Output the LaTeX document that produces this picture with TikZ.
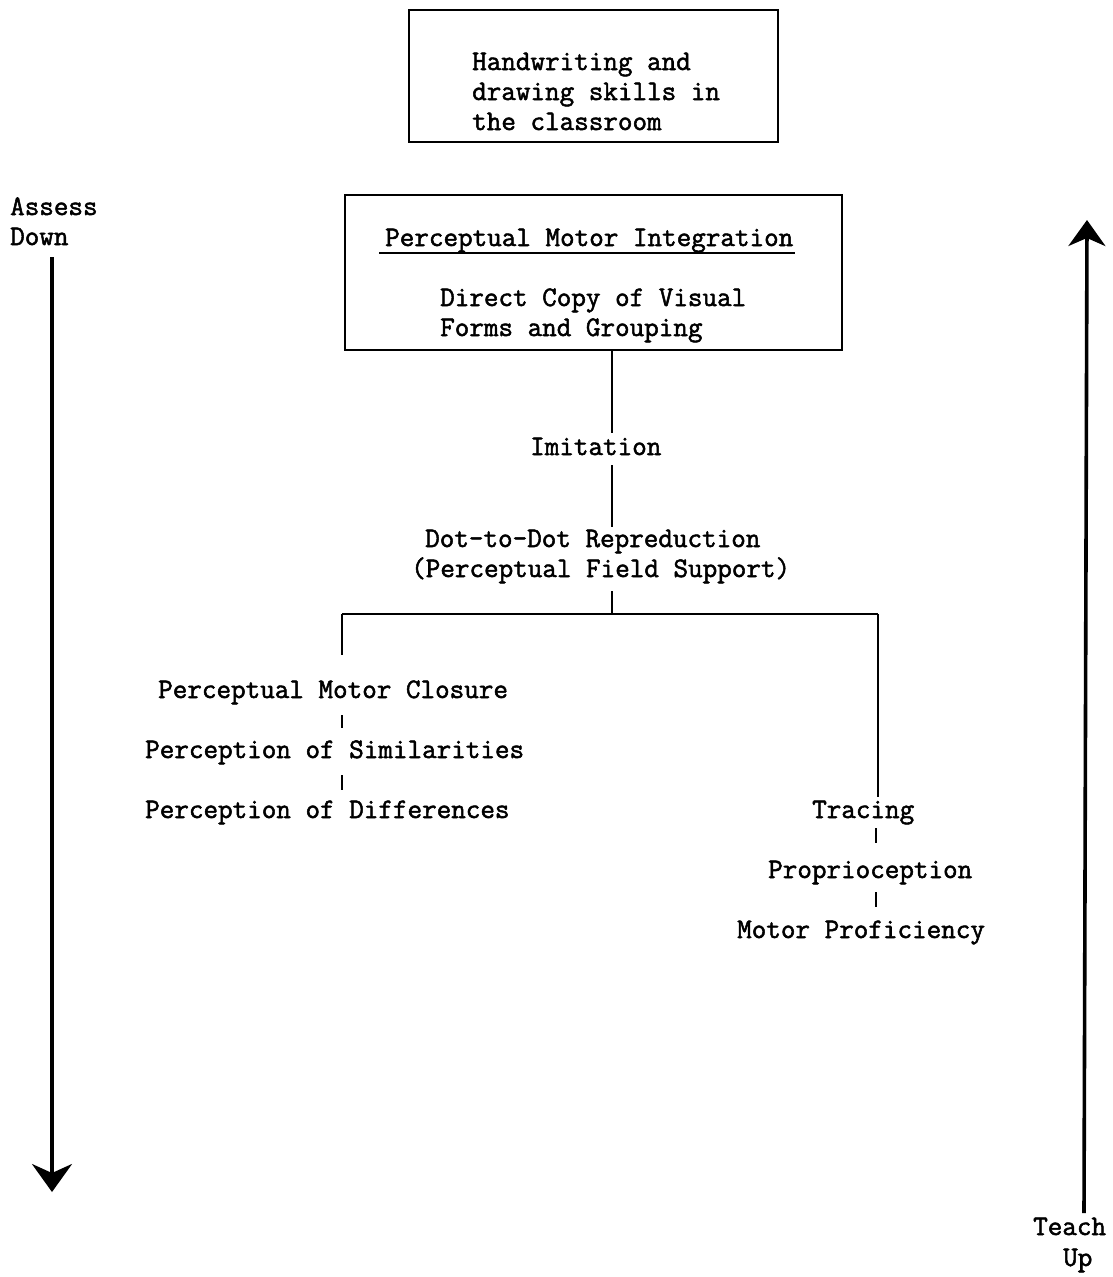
\documentclass[tikz,border=0pt]{standalone}
\usepackage{fontspec}
\usetikzlibrary{arrows.meta}
\newfontfamily\twmono[FakeBold=1.8]{Latin Modern Mono}
\newcommand\twfont{\fontsize{28.3}{30}\selectfont\twmono}
\begin{document}
\begin{tikzpicture}[x=1pt,y=-1pt,
  txt/.style={inner sep=0pt, anchor=base west, font=\twfont},
  boxline/.style={draw, line width=2.8pt, inner sep=0pt},
  conn/.style={line width=2.8pt},
  tick/.style={line width=2.4pt},
  downarrow/.style={line width=3.6pt, -{Stealth[length=28pt,width=40pt,inset=9pt]}},
  uparrow/.style={line width=3.6pt, -{Stealth[length=26pt,width=37pt,inset=8pt]}}]
\useasboundingbox (0,0) rectangle (1112,1277);

% boxes
\node[boxline, minimum width=369pt, minimum height=132pt] (box1) at (593.5,76) {};
\node[boxline, minimum width=497pt, minimum height=155pt] (box2) at (593.5,272.5) {};

% texts in top box
\node[txt] (hw1) at (472,70) {Handwriting and};
\node[txt] (hw2) at (472,100) {drawing skills in};
\node[txt] (hw3) at (472,130) {the classroom};

% texts in second box
\node[txt] (pmi) at (385,246) {Perceptual Motor Integration};
\draw[line width=1.8pt] ([xshift=-6pt,yshift=-7pt]pmi.base west) -- ([xshift=2pt,yshift=-7pt]pmi.base east);
\node[txt] (dc1) at (440,306) {Direct Copy of Visual};
\node[txt] (dc2) at (440,336) {Forms and Grouping};

% centre column
\node[txt] (imit) at (530,455) {Imitation};
\node[txt] (dot) at (425,547) {Dot-to-Dot Repreduction};
\node[txt] (pfs) at (411,577) {(Perceptual Field Support)};

% left column
\node[txt] (pmc) at (158,698) {Perceptual Motor Closure};
\node[txt] (sim) at (145,758) {Perception of Similarities};
\node[txt] (dif) at (145,818) {Perception of Differences};

% right column
\node[txt] (trac) at (812,818) {Tracing};
\node[txt] (prop) at (768,878) {Proprioception};
\node[txt] (prof) at (737,938) {Motor Proficiency};

% side labels
\node[txt] (assess) at (10,215) {Assess};
\node[txt] (down) at (10,245) {Down};
\node[txt] (teach) at (1033,1235) {Teach};
\node[txt] (up) at (1063,1266) {Up};

% connector coordinates
\coordinate (jx) at (612,0);
\coordinate (barL) at (342,614);
\coordinate (barR) at (878,614);
\coordinate (l1) at (342,655);
\coordinate (t1a) at (342,715);
\coordinate (t1b) at (342,728);
\coordinate (t2a) at (342,775);
\coordinate (t2b) at (342,790);
\coordinate (t3a) at (876,828);
\coordinate (t3b) at (876,843);
\coordinate (t4a) at (876,892);
\coordinate (t4b) at (876,907);

\draw[conn] (box2.south -| jx) -- ([yshift=5pt]imit.north -| jx);
\draw[conn] ([yshift=-10pt]imit.south -| jx) -- ([yshift=3pt]dot.north -| jx);
\draw[conn] ([yshift=-8pt]pfs.south -| jx) -- (jx |- barL);
\draw[conn] (barL) -- (barR);
\draw[conn] (barL) -- (l1);
\draw[conn] (barR) -- ([yshift=4pt]trac.north -| barR);
\draw[tick] (t1a) -- (t1b);
\draw[tick] (t2a) -- (t2b);
\draw[tick] (t3a) -- (t3b);
\draw[tick] (t4a) -- (t4b);

% big arrows
\coordinate (ad1) at (52,257);
\coordinate (ad2) at (52,1192);
\draw[downarrow] (ad1) -- (ad2);
\coordinate (tu1) at (1084,1213);
\coordinate (tu2) at (1087,220);
\draw[uparrow] (tu1) -- (tu2);
\end{tikzpicture}
\end{document}
